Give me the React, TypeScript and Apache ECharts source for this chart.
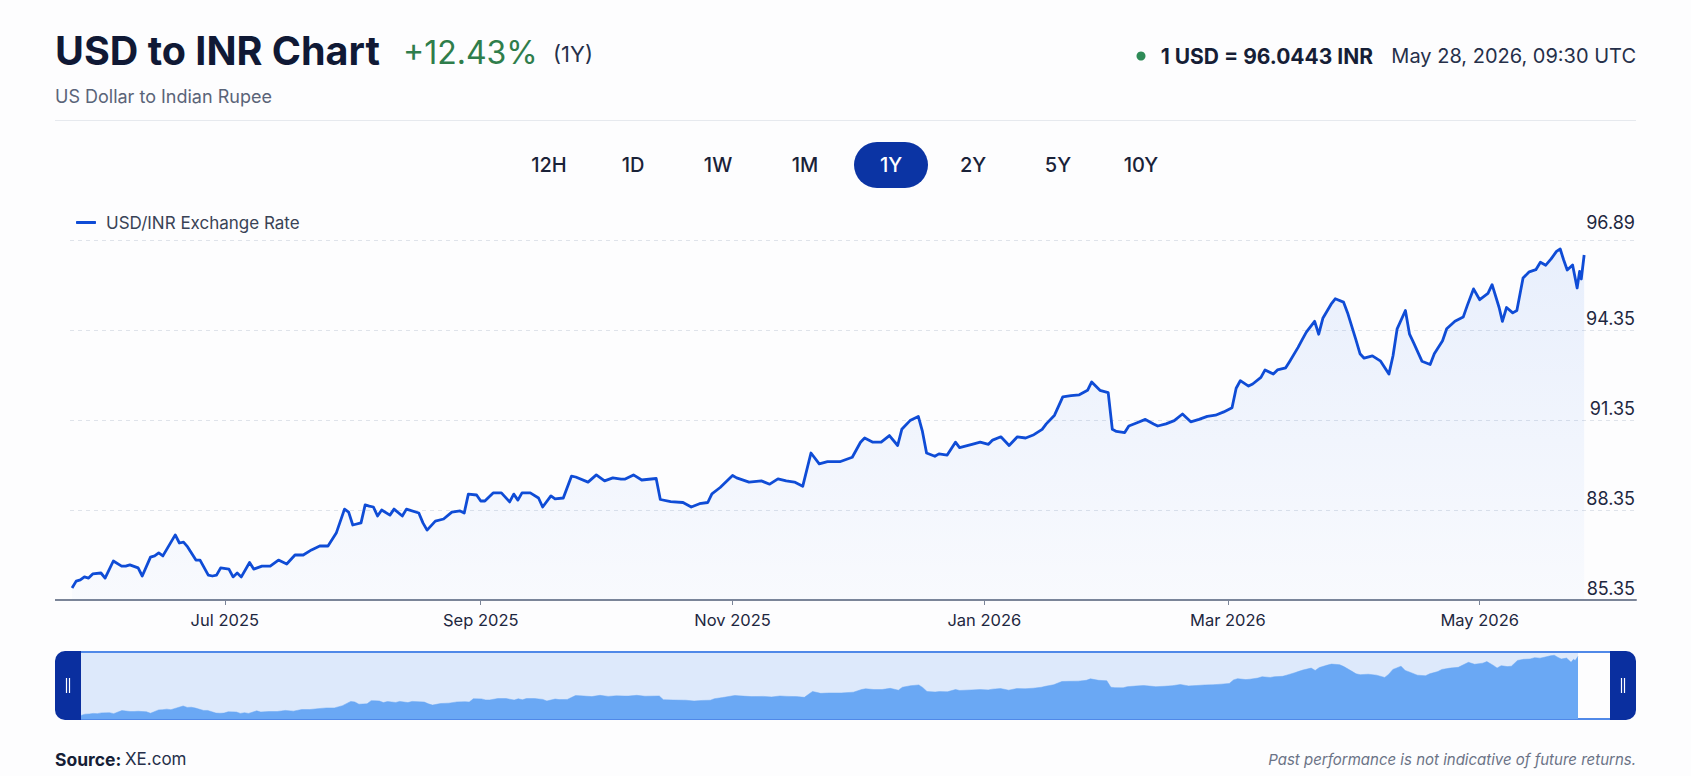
import { useEffect, useRef } from "react";
import * as echarts from "echarts";

// ---------- DATA ----------
const START_DATE = "2025-05-25";
const dayOffsets = [
  0, 1, 2, 3, 4, 5, 7, 8, 10, 12, 13, 14, 16, 17, 19, 20, 21, 22, 25, 26, 27, 28, 30, 31, 33, 34, 35, 36, 38, 39,
  40, 41, 43, 44, 46, 48, 50, 52, 54, 56, 58, 60, 62, 64, 66, 67, 68, 70, 71, 72, 73, 74, 75, 77, 78, 80, 81, 84,
  85, 86, 88, 90, 92, 94, 95, 96, 98, 99, 100, 102, 104, 106, 107, 108, 109, 111, 113, 114, 116, 117, 119, 121,
  122, 125, 127, 129, 131, 133, 134, 136, 138, 141.5, 142.5, 145, 148, 150, 152, 154, 155, 157, 160, 161, 164,
  167, 169, 171, 173, 175, 177, 179, 181, 183, 186, 189, 191, 192, 194, 196, 198, 200, 201, 203, 205, 206, 207,
  209, 210, 212, 214, 215, 218, 220, 222, 223, 225, 227, 229, 231, 233, 235, 236, 238, 240, 242, 244, 246, 247,
  249, 251, 252, 253, 255, 256, 258, 260, 262, 263, 265, 267, 269, 271, 273, 275, 277, 279, 281, 282, 283, 285,
  286, 288, 289, 291, 292, 294, 295, 297, 298, 299, 301, 302, 303, 305, 306, 308, 309, 311, 312, 313, 315, 317,
  319, 320, 321, 323, 324, 325, 327, 329, 330, 332, 333, 335, 337, 338, 339.5, 341, 343, 344, 345.7, 346.5,
  347.5, 349, 350, 351.5, 353, 354.6, 355.7, 357, 358.3, 359.6, 360.5, 361.3, 362.2, 363.5, 364.6, 365.2, 365.6,
  366.3,
];
const rates = [
  85.75, 85.98, 86.02, 86.12, 86.08, 86.22, 86.25, 86.08, 86.65, 86.48, 86.48, 86.52, 86.42, 86.15, 86.78, 86.82,
  86.92, 86.82, 87.52, 87.25, 87.28, 87.12, 86.68, 86.68, 86.18, 86.15, 86.18, 86.42, 86.38, 86.12, 86.25, 86.12,
  86.6, 86.38, 86.48, 86.48, 86.68, 86.55, 86.85, 86.85, 87.02, 87.15, 87.15, 87.58, 88.38, 88.28, 87.85, 87.92,
  88.52, 88.48, 88.45, 88.15, 88.35, 88.18, 88.38, 88.15, 88.38, 88.25, 87.92, 87.68, 87.98, 88.05, 88.28, 88.32,
  88.25, 88.88, 88.85, 88.65, 88.65, 88.92, 88.92, 88.62, 88.88, 88.68, 88.92, 88.92, 88.75, 88.45, 88.82, 88.72,
  88.75, 89.48, 89.45, 89.28, 89.52, 89.32, 89.42, 89.38, 89.38, 89.52, 89.35, 89.4, 88.7, 88.63, 88.6, 88.45,
  88.56, 88.6, 88.89, 89.1, 89.5, 89.42, 89.28, 89.32, 89.21, 89.39, 89.32, 89.28, 89.14, 90.25, 89.89, 89.96,
  89.96, 90.11, 90.61, 90.75, 90.61, 90.61, 90.83, 90.5, 91.04, 91.33, 91.47, 90.97, 90.25, 90.14, 90.22, 90.18,
  90.61, 90.43, 90.54, 90.61, 90.54, 90.68, 90.79, 90.5, 90.79, 90.75, 90.86, 91.04, 91.22, 91.51, 92.12, 92.16,
  92.19, 92.34, 92.62, 92.34, 92.26, 91.04, 90.97, 90.93, 91.15, 91.26, 91.37, 91.22, 91.15, 91.22, 91.33, 91.55,
  91.29, 91.37, 91.47, 91.51, 91.62, 91.76, 92.41, 92.66, 92.48, 92.55, 92.77, 93.02, 92.88, 93.02, 93.09, 93.31,
  93.77, 94.03, 94.28, 94.64, 94.21, 94.74, 95.21, 95.39, 95.28, 94.92, 94.03, 93.56, 93.41, 93.49, 93.31, 92.88,
  93.49, 94.39, 95.0, 94.21, 93.92, 93.31, 93.2, 93.56, 93.99, 94.39, 94.64, 94.78, 95.17, 95.72, 95.36, 95.57,
  95.86, 95.1, 94.64, 95.1, 94.92, 95.0, 96.08, 96.29, 96.36, 96.61, 96.51, 96.72, 96.97, 97.05, 96.7, 96.35,
  96.52, 95.75, 96.3, 96.05, 96.85,
];
const xTickDates = ["2025-07-01", "2025-09-01", "2025-11-01", "2026-01-01", "2026-03-01", "2026-05-01"];
const yTickValues = [85.35, 88.35, 91.35, 94.35, 97.35];
const yTickLabels = ["85.35", "88.35", "91.35", "94.35", "96.89"];
const periods = ["12H", "1D", "1W", "1M", "1Y", "2Y", "5Y", "10Y"];
const activePeriod = "1Y";
const seriesName = "USD/INR Exchange Rate";
const MONTHS = ["Jan", "Feb", "Mar", "Apr", "May", "Jun", "Jul", "Aug", "Sep", "Oct", "Nov", "Dec"];

// ---------- HELPERS ----------
const DAY = 86400000;
const t0 = Date.parse(START_DATE + "T00:00:00Z");
const seriesData = dayOffsets.map((d, i) => [t0 + d * DAY, rates[i]]);
const tickTimes = xTickDates.map((s) => Date.parse(s + "T00:00:00Z"));
const FONT = "Inter, 'Noto Sans', sans-serif";

export default function App() {
  const ref = useRef<HTMLDivElement>(null);

  useEffect(() => {
    if (!ref.current) return;
    const chart = echarts.init(ref.current, null, { renderer: "svg" });

    const mainMin = t0 - 0.5 * DAY;
    const mainMax = mainMin + (1566 / 4.128) * DAY;
    const miniMax = t0 + dayOffsets[dayOffsets.length - 1] * DAY;

    const btnX = [549, 633, 718, 805, 891, 973, 1058, 1141];
    const buttons: any[] = [];
    periods.forEach((p, i) => {
      const active = p === activePeriod;
      if (active) {
        buttons.push({
          type: "rect",
          shape: { x: btnX[i] - 37, y: 142, width: 74, height: 46, r: 23 },
          style: { fill: "#0b34a4" },
        });
      }
      buttons.push({
        type: "text",
        x: btnX[i],
        y: 165,
        style: {
          text: p,
          fontSize: 20,
          fontFamily: FONT,
          fontWeight: 500,
          fill: active ? "#ffffff" : "#1a2238",
          align: "center",
          verticalAlign: "middle",
        },
      });
    });

    const lastLabelIdx = yTickValues.length - 1;

    const option: any = {
      animation: false,
      backgroundColor: "#fdfdfe",
      textStyle: { fontFamily: FONT },
      legend: {
        data: [seriesName],
        left: 71,
        top: 209,
        icon: "roundRect",
        itemWidth: 20,
        itemHeight: 3,
        textStyle: { fontSize: 17, color: "#394356", fontFamily: FONT, padding: [0, 0, 0, 5] },
      },
      grid: [
        { left: 70, right: 55, top: 240, height: 360 },
        {
          left: 81,
          top: 652,
          width: 1497,
          height: 67,
          show: true,
          backgroundColor: "#dde9fb",
          borderWidth: 0,
        },
      ],
      xAxis: [
        {
          type: "value",
          gridIndex: 0,
          min: mainMin,
          max: mainMax,
          axisLine: { show: true, lineStyle: { color: "#7b8598", width: 2 } },
          axisTick: { show: true, customValues: tickTimes, length: 5, lineStyle: { color: "#7b8598", width: 1 } },
          splitLine: { show: false },
          axisLabel: {
            customValues: tickTimes,
            margin: 11,
            fontSize: 16.5,
            color: "#1d2740",
            fontFamily: FONT,
            formatter: (v: number) => {
              const d = new Date(v);
              return MONTHS[d.getUTCMonth()] + " " + d.getUTCFullYear();
            },
          },
        },
        { type: "value", gridIndex: 1, min: t0, max: miniMax, show: false, splitLine: { show: false } },
      ],
      yAxis: [
        {
          type: "value",
          gridIndex: 0,
          position: "right",
          min: yTickValues[0],
          max: yTickValues[lastLabelIdx],
          interval: 3,
          axisLine: { show: false },
          axisTick: { show: false },
          splitLine: { show: true, lineStyle: { color: "#dfe3ea", type: [4, 4], width: 1 } },
          axisLabel: {
            inside: true,
            margin: 1,
            fontSize: 18,
            color: "#1d2740",
            fontFamily: FONT,
            verticalAlign: "bottom",
            padding: [0, 0, 3, 0],
            formatter: (v: number) => {
              const idx = yTickValues.findIndex((t) => Math.abs(t - v) < 1e-6);
              if (idx < 0) return "";
              return idx === lastLabelIdx ? "{top|" + yTickLabels[idx] + "}" : yTickLabels[idx];
            },
            rich: {
              top: { fontSize: 18, color: "#1d2740", fontFamily: FONT, padding: [0, 0, 6, 0] },
            },
          },
        },
        { type: "value", gridIndex: 1, min: 85.07, max: 97.67, show: false, splitLine: { show: false } },
      ],
      series: [
        {
          name: seriesName,
          type: "line",
          xAxisIndex: 0,
          yAxisIndex: 0,
          data: seriesData,
          showSymbol: false,
          symbol: "none",
          color: "#0f4cd6",
          lineStyle: { width: 2.8, color: "#0f4cd6", join: "round" },
          areaStyle: {
            color: {
              type: "linear",
              x: 0,
              y: 0,
              x2: 0,
              y2: 1,
              colorStops: [
                { offset: 0, color: "rgba(40,110,235,0.14)" },
                { offset: 1, color: "rgba(40,110,235,0.03)" },
              ],
            },
          },
          z: 3,
        },
        {
          name: "mini",
          type: "line",
          xAxisIndex: 1,
          yAxisIndex: 1,
          data: seriesData,
          showSymbol: false,
          symbol: "none",
          lineStyle: { width: 0.5, color: "#6aa8f4" },
          areaStyle: { color: "#6aa8f4", opacity: 1 },
        },
      ],
      graphic: [
        {
          type: "text",
          x: 55,
          y: 51,
          style: {
            text: "USD to INR Chart",
            fontSize: 39.5,
            fontWeight: 700,
            fontFamily: FONT,
            fill: "#101935",
            align: "left",
            verticalAlign: "middle",
          },
        },
        {
          type: "text",
          x: 403,
          y: 52,
          style: {
            text: "+12.43%",
            fontSize: 32,
            fontWeight: 400,
            fontFamily: FONT,
            fill: "#2f7d4b",
            align: "left",
            verticalAlign: "middle",
          },
        },
        {
          type: "text",
          x: 553,
          y: 54,
          style: {
            text: "(1Y)",
            fontSize: 22,
            fontFamily: FONT,
            fill: "#26304a",
            align: "left",
            verticalAlign: "middle",
          },
        },
        {
          type: "text",
          x: 55,
          y: 96,
          style: {
            text: "US Dollar to Indian Rupee",
            fontSize: 18,
            fontFamily: FONT,
            fill: "#5a6478",
            align: "left",
            verticalAlign: "middle",
          },
        },
        {
          type: "line",
          shape: { x1: 55, y1: 120.5, x2: 1636, y2: 120.5 },
          style: { stroke: "#e6e9ee", lineWidth: 1 },
        },
        { type: "circle", shape: { cx: 1141, cy: 56, r: 4.5 }, style: { fill: "#2e8b57" } },
        {
          type: "text",
          x: 1373,
          y: 56,
          style: {
            text: "1 USD = 96.0443 INR",
            fontSize: 21,
            fontWeight: 700,
            fontFamily: FONT,
            fill: "#161e36",
            align: "right",
            verticalAlign: "middle",
          },
        },
        {
          type: "text",
          x: 1636,
          y: 56,
          style: {
            text: "May 28, 2026, 09:30 UTC",
            fontSize: 20,
            fontFamily: FONT,
            fill: "#26304a",
            align: "right",
            verticalAlign: "middle",
          },
        },
        ...buttons,
        {
          type: "line",
          shape: { x1: 55, y1: 600, x2: 71, y2: 600 },
          style: { stroke: "#7b8598", lineWidth: 2 },
        },
        {
          type: "line",
          shape: { x1: 78, y1: 652, x2: 1613, y2: 652 },
          style: { stroke: "#5089e8", lineWidth: 2 },
        },
        {
          type: "line",
          shape: { x1: 78, y1: 719, x2: 1613, y2: 719 },
          style: { stroke: "#5089e8", lineWidth: 2 },
        },
        {
          type: "rect",
          shape: { x: 55, y: 651, width: 26, height: 69, r: [10, 0, 0, 10] },
          style: { fill: "#0a2f9f" },
        },
        {
          type: "rect",
          shape: { x: 1610, y: 651, width: 26, height: 69, r: [0, 10, 10, 0] },
          style: { fill: "#0a2f9f" },
        },
        { type: "line", shape: { x1: 66.5, y1: 678, x2: 66.5, y2: 693 }, style: { stroke: "#ffffff", lineWidth: 1.2 } },
        { type: "line", shape: { x1: 69.5, y1: 678, x2: 69.5, y2: 693 }, style: { stroke: "#ffffff", lineWidth: 1.2 } },
        { type: "line", shape: { x1: 1621.5, y1: 678, x2: 1621.5, y2: 693 }, style: { stroke: "#ffffff", lineWidth: 1.2 } },
        { type: "line", shape: { x1: 1624.5, y1: 678, x2: 1624.5, y2: 693 }, style: { stroke: "#ffffff", lineWidth: 1.2 } },
        {
          type: "text",
          x: 55,
          y: 759,
          style: {
            text: "Source:",
            fontSize: 17.5,
            fontWeight: 700,
            fontFamily: FONT,
            fill: "#161e36",
            align: "left",
            verticalAlign: "middle",
          },
        },
        {
          type: "text",
          x: 125,
          y: 759,
          style: {
            text: "XE.com",
            fontSize: 17,
            fontFamily: FONT,
            fill: "#26304a",
            align: "left",
            verticalAlign: "middle",
          },
        },
        {
          type: "text",
          x: 1636,
          y: 759,
          style: {
            text: "Past performance is not indicative of future returns.",
            fontSize: 15,
            fontStyle: "italic",
            fontFamily: FONT,
            fill: "#6b7386",
            align: "right",
            verticalAlign: "middle",
          },
        },
      ],
    };

    chart.setOption(option);
    return () => chart.dispose();
  }, []);

  return (
    <div
      ref={ref}
      style={{ position: "fixed", left: 0, top: 0, width: 1691, height: 776, background: "#fdfdfe" }}
    />
  );
}
